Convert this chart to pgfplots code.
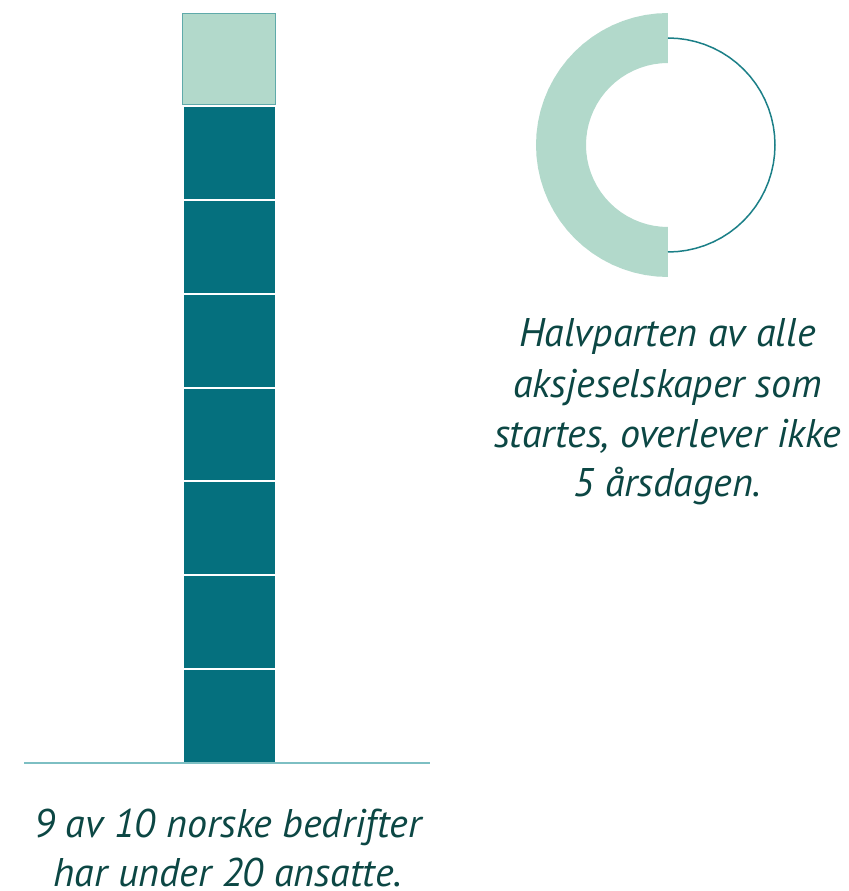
\documentclass[border=0pt]{standalone}
\usepackage{fontspec}
\setmainfont{PT Sans}
\usepackage{pgfplots}
\pgfplotsset{compat=1.18}
\usepgfplotslibrary{polar}

\definecolor{tealdark}{HTML}{05707E}
\definecolor{mint}{HTML}{B2D9CB}
\definecolor{mintedge}{HTML}{5FAAAA}
\definecolor{baseline}{HTML}{7DBFC3}
\definecolor{ringline}{HTML}{1B7F87}
\definecolor{txt}{HTML}{0C4744}

\newcommand{\lbl}{\itshape\fontsize{20}{25}\selectfont}

\begin{document}
\begin{tikzpicture}
\useasboundingbox (0,0) rectangle (424.5pt,445.5pt);

% left: stacked squares
\begin{axis}[
  at={(12pt,64pt)}, anchor=south west,
  width=203pt, height=374.5pt, scale only axis,
  xmin=-1, xmax=0.976, ymin=0, ymax=7.98,
  axis x line=bottom, axis y line=none,
  x axis line style={-, draw=baseline, line width=0.75pt},
  xtick=\empty, ytick=\empty,
  axis on top, clip=false,
  ybar stacked, bar width=46.5pt,
]
\addplot[fill=tealdark, draw=white, line width=1pt] coordinates {(0,1)};
\addplot[fill=tealdark, draw=white, line width=1pt] coordinates {(0,1)};
\addplot[fill=tealdark, draw=white, line width=1pt] coordinates {(0,1)};
\addplot[fill=tealdark, draw=white, line width=1pt] coordinates {(0,1)};
\addplot[fill=tealdark, draw=white, line width=1pt] coordinates {(0,1)};
\addplot[fill=tealdark, draw=white, line width=1pt] coordinates {(0,1)};
\addplot[fill=tealdark, draw=white, line width=1pt] coordinates {(0,1)};
\addplot[fill=none, draw=none] coordinates {(0,0.02)};
\addplot[fill=mint, draw=mintedge, line width=0.5pt] coordinates {(0,0.96)};
\end{axis}

% right: half ring
\begin{polaraxis}[
  at={(334pt,373pt)}, anchor=center,
  width=132pt, height=132pt, scale only axis,
  ymin=0, ymax=132,
  hide axis, clip=false,
]
\addplot[fill=mint, draw=none, no marks] coordinates {
  (90,132) (95,132) (100,132) (105,132) (110,132) (115,132) (120,132) (125,132)
  (130,132) (135,132) (140,132) (145,132) (150,132) (155,132) (160,132) (165,132)
  (170,132) (175,132) (180,132) (185,132) (190,132) (195,132) (200,132) (205,132)
  (210,132) (215,132) (220,132) (225,132) (230,132) (235,132) (240,132) (245,132)
  (250,132) (255,132) (260,132) (265,132) (270,132)
  (270,82) (265,82) (260,82) (255,82) (250,82) (245,82) (240,82) (235,82)
  (230,82) (225,82) (220,82) (215,82) (210,82) (205,82) (200,82) (195,82)
  (190,82) (185,82) (180,82) (175,82) (170,82) (165,82) (160,82) (155,82)
  (150,82) (145,82) (140,82) (135,82) (130,82) (125,82) (120,82) (115,82)
  (110,82) (105,82) (100,82) (95,82) (90,82)
};
\addplot[draw=ringline, line width=0.75pt, no marks] coordinates {
  (-90,107) (-85,107) (-80,107) (-75,107) (-70,107) (-65,107) (-60,107) (-55,107)
  (-50,107) (-45,107) (-40,107) (-35,107) (-30,107) (-25,107) (-20,107) (-15,107)
  (-10,107) (-5,107) (0,107) (5,107) (10,107) (15,107) (20,107) (25,107)
  (30,107) (35,107) (40,107) (45,107) (50,107) (55,107) (60,107) (65,107)
  (70,107) (75,107) (80,107) (85,107) (90,107)
};
\end{polaraxis}

% captions
\node[anchor=base, text=txt, font=\lbl] at (114pt,27pt) {9 av 10 norske bedrifter};
\node[anchor=base, text=txt, font=\lbl] at (114pt,2.2pt) {har under 20 ansatte.};
\node[anchor=base, text=txt, font=\lbl] at (333.75pt,272pt) {Halvparten av alle};
\node[anchor=base, text=txt, font=\lbl] at (333.75pt,246.5pt) {aksjeselskaper som};
\node[anchor=base, text=txt, font=\lbl] at (333.75pt,221.5pt) {startes, overlever ikke};
\node[anchor=base, text=txt, font=\lbl] at (333.75pt,197pt) {5 årsdagen.};
\end{tikzpicture}
\end{document}
